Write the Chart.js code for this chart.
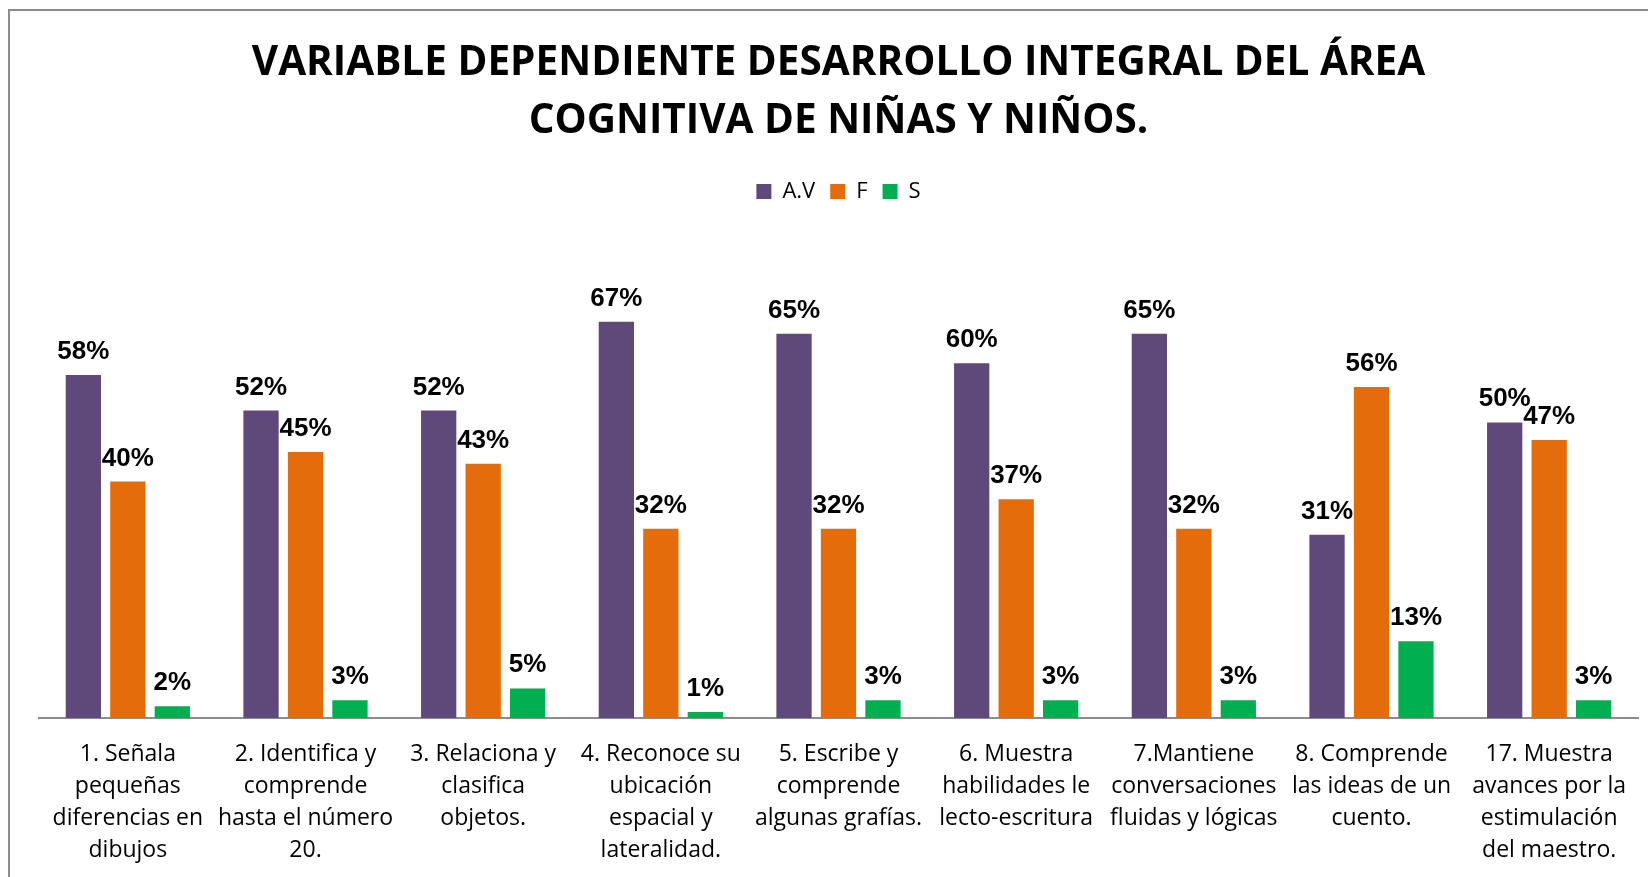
<!DOCTYPE html>
<html lang="es">
<head>
<meta charset="utf-8">
<title>Desarrollo integral del área cognitiva</title>
<script src="https://cdn.jsdelivr.net/npm/chart.js@4.4.1/dist/chart.umd.min.js"></script>
<style>
  html, body { margin: 0; padding: 0; background: #fff; overflow: hidden; }
  #wrap { width: 1677px; height: 877px; }
</style>
</head>
<body>
<div id="wrap"><canvas id="cognitiveChart" width="1677" height="877"></canvas></div>
<script>
// Categories (one entry per line of the label)
const categories = [
  ['1. Señala', 'pequeñas', 'diferencias en', 'dibujos'],
  ['2. Identifica y', 'comprende', 'hasta el número', '20.'],
  ['3. Relaciona y', 'clasifica', 'objetos.'],
  ['4. Reconoce su', 'ubicación', 'espacial y', 'lateralidad.'],
  ['5. Escribe y', 'comprende', 'algunas grafías.'],
  ['6. Muestra', 'habilidades le', 'lecto-escritura'],
  ['7.Mantiene', 'conversaciones', 'fluidas y lógicas'],
  ['8. Comprende', 'las ideas de un', 'cuento.'],
  ['17. Muestra', 'avances por la', 'estimulación', 'del maestro.'],
];

// Series values (percent)
const avValues = [58, 52, 52, 67, 65, 60, 65, 31, 50];
const fValues = [40, 45, 43, 32, 32, 37, 32, 56, 47];
const sValues = [2, 3, 5, 1, 3, 3, 3, 13, 3];

const seriesNames = ['A.V', 'F', 'S'];
const titleLines = [
  'VARIABLE DEPENDIENTE DESARROLLO INTEGRAL DEL ÁREA',
  'COGNITIVA DE NIÑAS Y NIÑOS.',
];

// Colours
const PURPLE = '#5F497A';
const ORANGE = '#E46C0A';
const GREEN = '#00B050';
const GRAY = '#8c8c8c';

// Value labels above every bar
const barLabels = {
  id: 'barLabels',
  afterDatasetsDraw(chart) {
    const { ctx } = chart;
    ctx.save();
    ctx.font = 'bold 26px "Liberation Sans", Arial, sans-serif';
    ctx.fillStyle = '#000';
    ctx.textAlign = 'center';
    ctx.textBaseline = 'alphabetic';
    chart.data.datasets.forEach((ds, i) => {
      const meta = chart.getDatasetMeta(i);
      meta.data.forEach((bar, j) => {
        ctx.fillText(ds.data[j] + '%', bar.x, bar.y - 16);
      });
    });
    ctx.restore();
  },
};

// Grey frame round the chart (right and bottom edges fall outside the view)
const chartFrame = {
  id: 'chartFrame',
  beforeDraw(chart) {
    const { ctx, width, height } = chart;
    ctx.save();
    ctx.strokeStyle = GRAY;
    ctx.lineWidth = 2;
    ctx.strokeRect(9, 10, width - 18, height + 20);
    ctx.restore();
  },
};

const ctx = document.getElementById('cognitiveChart').getContext('2d');

new Chart(ctx, {
  type: 'bar',
  data: {
    labels: categories,
    datasets: [
      { label: seriesNames[0], data: avValues, backgroundColor: PURPLE },
      { label: seriesNames[1], data: fValues, backgroundColor: ORANGE },
      { label: seriesNames[2], data: sValues, backgroundColor: GREEN },
    ],
  },
  options: {
    responsive: false,
    animation: false,
    devicePixelRatio: 1,
    categoryPercentage: 0.751,
    barPercentage: 0.793,
    layout: { padding: { left: 39, right: 39, top: 0, bottom: 0 } },
    plugins: {
      title: {
        display: true,
        text: titleLines,
        color: '#000',
        font: { family: '"Open Sans", sans-serif', size: 40.5, weight: 'bold', lineHeight: '58px' },
        padding: { top: 34, bottom: 15.5 },
      },
      legend: {
        display: true,
        position: 'top',
        labels: {
          color: '#000',
          font: { family: '"Open Sans", sans-serif', size: 22 },
          boxWidth: 15,
          boxHeight: 15,
          padding: 15,
        },
      },
      // empty spacer placed below the legend
      subtitle: {
        display: true,
        text: '',
        weight: 500,
        font: { size: 1, lineHeight: '1px' },
        padding: { top: 0, bottom: 31.5 },
      },
      tooltip: { enabled: false },
    },
    scales: {
      x: {
        grid: { display: false, drawTicks: false },
        border: { display: true, color: GRAY, width: 2 },
        ticks: {
          color: '#000',
          font: { family: '"Open Sans", sans-serif', size: 23, lineHeight: '32px' },
          padding: 20,
          maxRotation: 0,
          autoSkip: false,
        },
        afterFit(scale) { scale.height = 159; },
      },
      y: {
        display: false,
        min: 0,
        max: 80,
      },
    },
  },
  plugins: [chartFrame, barLabels],
});
</script>
</body>
</html>
